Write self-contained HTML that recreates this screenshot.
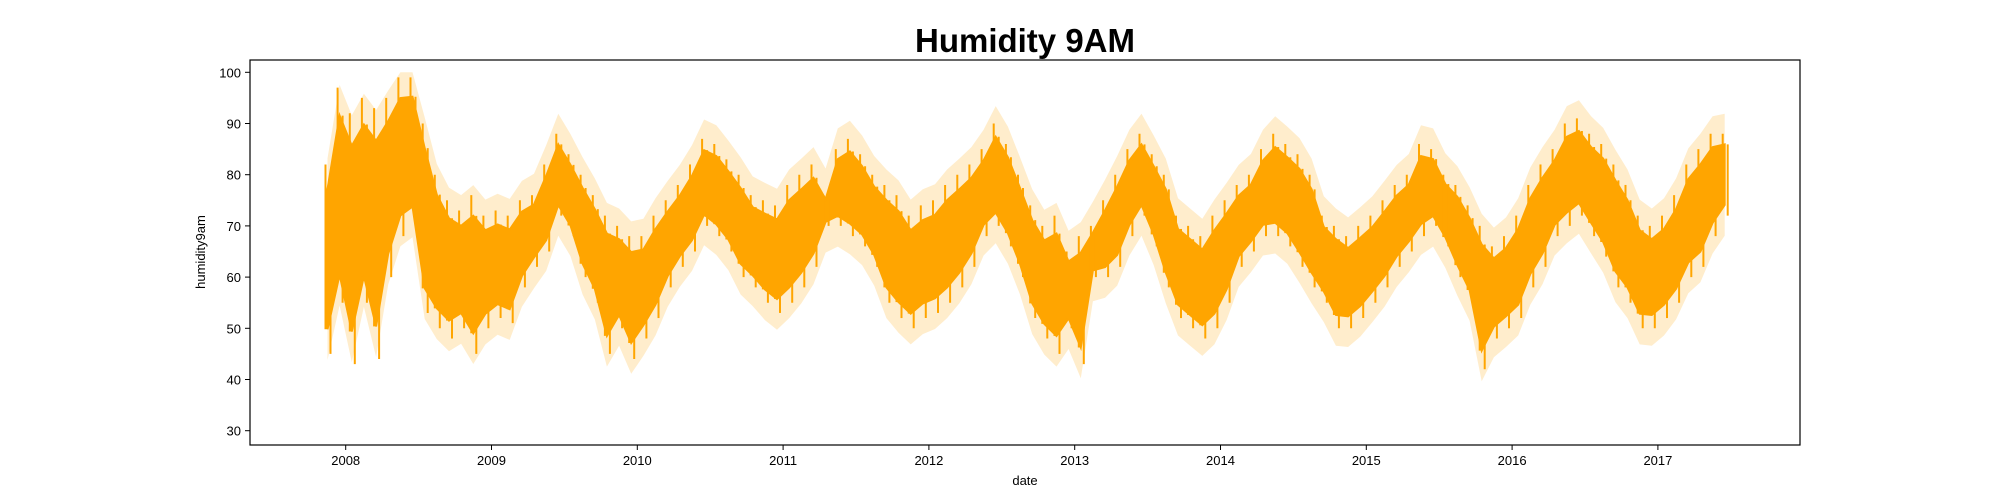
<!DOCTYPE html>
<html><head><meta charset="utf-8"><style>
body{margin:0;background:#fff;}
svg{display:block;font-family:"Liberation Sans","DejaVu Sans",sans-serif;}
</style></head><body>
<svg id="chart" width="2000" height="500" viewBox="0 0 2000 500">
<text x="1025" y="52" text-anchor="middle" font-size="33" font-weight="bold">Humidity 9AM</text>
<g id="band"></g>
<g id="line"></g>
<rect x="250" y="60" width="1550" height="385" fill="none" stroke="#000" stroke-width="1.2"/>
<g id="yaxis"></g>
<g id="xaxis"></g>
<text x="1025" y="485" text-anchor="middle" font-size="13">date</text>
<text x="205" y="252" text-anchor="middle" font-size="13" transform="rotate(-90 205 252)">humidity9am</text>
</svg>
<script>
const startYear = 2007, startMonth = 11;
const lows = [45,55, 43,55,44,60,68,70,53,50,48,50,45,50, 52,51,58,62,65,72,68,60,55,45,50,44, 48,52,58,62,65,70,68,65,60,58,55,53, 55,58,62,70,70,68,66,62,55,52,50,52, 53,55,58,62,68,70,66,60,52,48,45,50, 43,60,60,62,68,72,66,58,52,50,48,50, 55,62,65,68,68,66,62,58,55,50,50,52, 55,58,62,65,68,70,66,60,55,42,48,50, 52,58,62,68,70,72,68,64,58,55,50,50, 52,55,60,62,68,72];
const highs = [82,97, 92,95,93,95,99,99,90,80,75,73,76,72, 73,72,75,76,82,88,84,80,76,72,70,68, 68,72,75,78,82,87,86,83,80,76,75,74, 78,80,82,76,85,87,84,80,78,76,72,74, 75,78,80,82,85,90,86,80,74,70,72,65, 68,70,75,80,85,88,84,80,72,70,68,72, 75,78,80,85,88,86,84,80,72,70,68,70, 72,75,78,80,86,85,80,78,74,70,66,68, 72,78,82,85,90,91,88,86,82,78,72,70, 72,76,82,85,88,88];
const yTicks = [30,40,50,60,70,80,90,100];
const xTicks = [2008,2009,2010,2011,2012,2013,2014,2015,2016,2017];
const yScale = v => 328.3 - (v - 50) * 5.12;
const xScale = t => 345.7 + (t - 2008) * 145.8;
const NS = "http://www.w3.org/2000/svg";
function tOf(i){ const m = startMonth - 1 + i; return startYear + Math.floor(m/12) + ((m%12)+0.5)/12; }
function coreHi(i){ const mid=(lows[i]+highs[i])/2; return mid + 0.37*(highs[i]-lows[i]); }
function coreLo(i){ const mid=(lows[i]+highs[i])/2; return mid - 0.37*(highs[i]-lows[i]); }
function envelope(pad){
  let top = [], bot = [];
  for (let i=0;i<lows.length;i++){
    const x = xScale(tOf(i));
    top.push(x.toFixed(1)+","+yScale(Math.min(100,coreHi(i)+pad)).toFixed(1));
    bot.unshift(x.toFixed(1)+","+yScale(coreLo(i)-pad).toFixed(1));
  }
  return top.concat(bot).join(" ");
}
const band = document.createElementNS(NS,"polygon");


band.setAttribute("points", envelope(6));
band.setAttribute("fill","#ffa500"); band.setAttribute("fill-opacity","0.2");
document.getElementById("band").appendChild(band);
const area = document.createElementNS(NS,"polygon");


area.setAttribute("points", envelope(0));
area.setAttribute("fill","#ffa500"); area.setAttribute("stroke","#ffa500"); area.setAttribute("stroke-width","2");
document.getElementById("line").appendChild(area);
for (let i=0;i<lows.length;i++){
  const x = xScale(tOf(i));
  const s = document.createElementNS(NS,"line");
  
  
  s.setAttribute("x1",(x-2).toFixed(1)); s.setAttribute("x2",(x-2).toFixed(1));
  s.setAttribute("y1",yScale(highs[i])); s.setAttribute("y2",yScale(coreLo(i)));
  s.setAttribute("stroke","#ffa500"); s.setAttribute("stroke-width","2");
  document.getElementById("line").appendChild(s);
  const s2 = document.createElementNS(NS,"line");
  
  
  s2.setAttribute("x1",(x+3).toFixed(1)); s2.setAttribute("x2",(x+3).toFixed(1));
  s2.setAttribute("y1",yScale(lows[i])); s2.setAttribute("y2",yScale(coreHi(i)));
  s2.setAttribute("stroke","#ffa500"); s2.setAttribute("stroke-width","2");
  document.getElementById("line").appendChild(s2);
}
const ya = document.getElementById("yaxis");
yTicks.forEach(v=>{
  const y = yScale(v);
  const l = document.createElementNS(NS,"line");
  
  
  l.setAttribute("x1",245); l.setAttribute("x2",250); l.setAttribute("y1",y); l.setAttribute("y2",y); l.setAttribute("stroke","#000");
  ya.appendChild(l);
  const t = document.createElementNS(NS,"text");
  
  
  t.setAttribute("x",241); t.setAttribute("y",y+5); t.setAttribute("text-anchor","end"); t.setAttribute("font-size","13");
  t.textContent = v; ya.appendChild(t);
});
const xa = document.getElementById("xaxis");
xTicks.forEach(v=>{
  const x = xScale(v);
  const l = document.createElementNS(NS,"line");
  
  
  l.setAttribute("x1",x); l.setAttribute("x2",x); l.setAttribute("y1",445); l.setAttribute("y2",450); l.setAttribute("stroke","#000");
  xa.appendChild(l);
  const t = document.createElementNS(NS,"text");
  
  
  t.setAttribute("x",x); t.setAttribute("y",465); t.setAttribute("text-anchor","middle"); t.setAttribute("font-size","13");
  t.textContent = v; xa.appendChild(t);
});
</script>
</body></html>
